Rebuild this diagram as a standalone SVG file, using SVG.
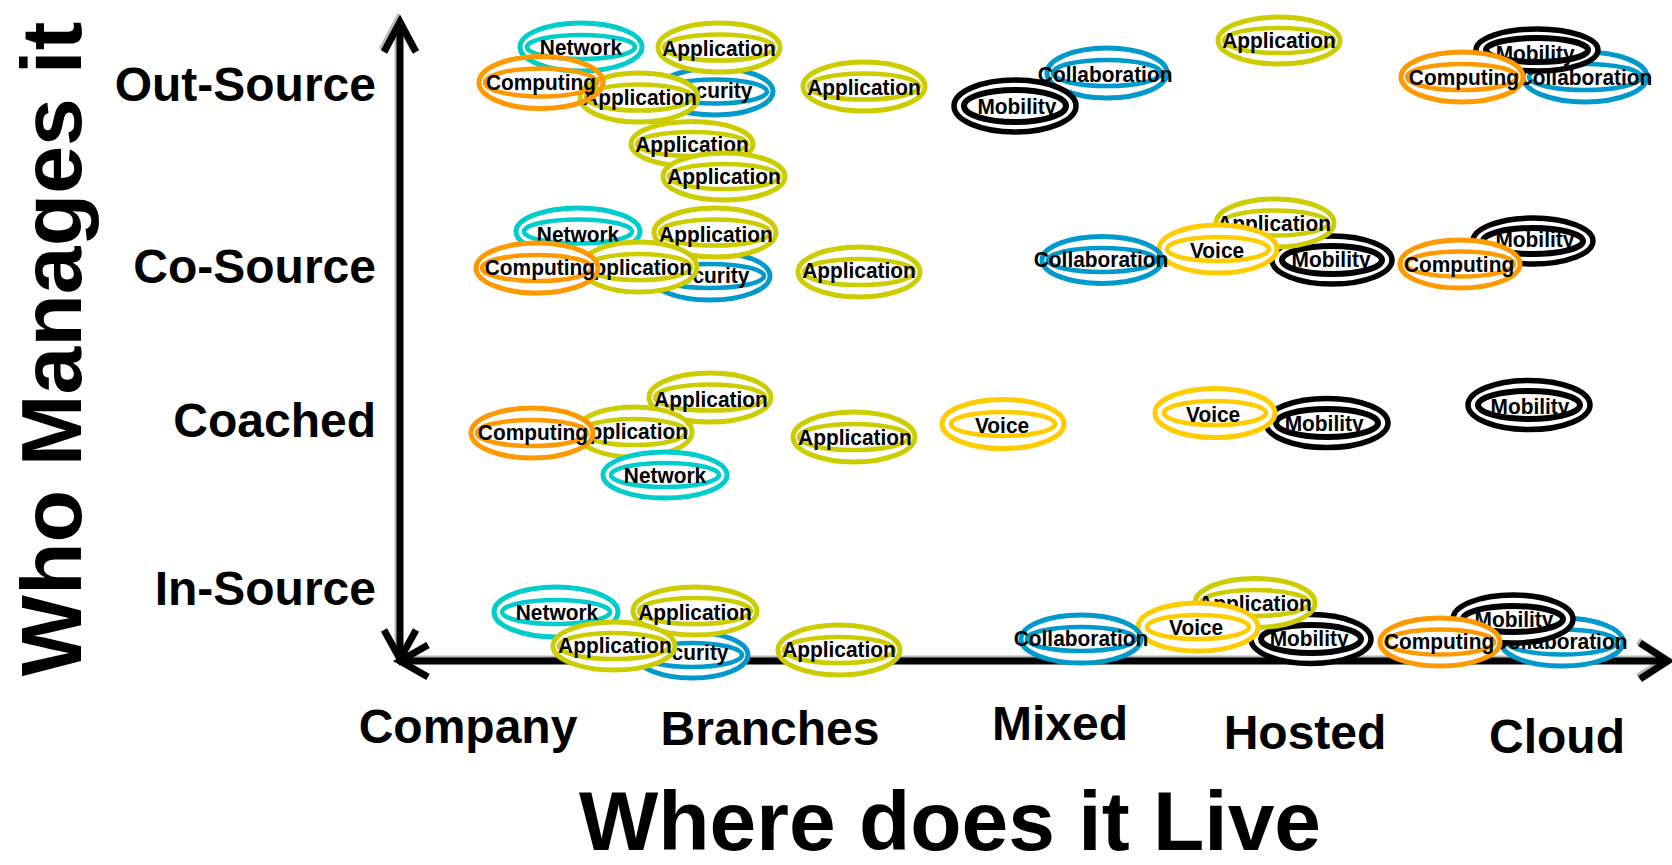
<svg xmlns="http://www.w3.org/2000/svg" width="1672" height="865" viewBox="0 0 1672 865">
<style>
.o{fill:#fff;stroke-width:5}
.i{fill:none;stroke-width:4.5}
.nf .o{fill:none}
.k .o{stroke-width:5.5}
.k .i{stroke-width:6}
.cy ellipse{stroke:#00CCCC}
.yg ellipse{stroke:#CCCC00}
.bl ellipse{stroke:#0099CC}
.or ellipse{stroke:#FF9900}
.ye ellipse{stroke:#FFCC00}
.k ellipse{stroke:#000}
.t{font-family:"Liberation Sans",Arial,sans-serif;font-weight:bold;font-size:22px;text-anchor:middle;fill:#000;transform:scale(0.95,1)}
.lab{font-family:"Liberation Sans",Arial,sans-serif;font-weight:bold;fill:#000}
.ax{fill:none;stroke:#000;stroke-width:7;stroke-linejoin:miter}
.axs{fill:none;stroke:#9a9a9a;stroke-width:7;opacity:0.7}
</style>
<rect width="1672" height="865" fill="#fff"/>
<g id="labels">
<text class="lab" x="376" y="101" font-size="48" text-anchor="end">Out-Source</text>
<text class="lab" x="376" y="283" font-size="48" text-anchor="end">Co-Source</text>
<text class="lab" x="376" y="437" font-size="48" text-anchor="end">Coached</text>
<text class="lab" x="376" y="605" font-size="48" text-anchor="end">In-Source</text>
<text class="lab" x="468" y="743" font-size="48" text-anchor="middle">Company</text>
<text class="lab" x="770" y="745" font-size="48" text-anchor="middle">Branches</text>
<text class="lab" x="1060" y="740" font-size="48" text-anchor="middle">Mixed</text>
<text class="lab" x="1305" y="749" font-size="48" text-anchor="middle">Hosted</text>
<text class="lab" x="1557" y="753" font-size="48" text-anchor="middle">Cloud</text>
<text class="lab" x="950" y="850" font-size="84" text-anchor="middle">Where does it Live</text>
<text class="lab" font-size="86" text-anchor="middle" transform="translate(81,349) rotate(-90)">Who Manages it</text>
</g>
<g id="connectors">
<g transform="translate(-2,-2)">
<line class="axs" x1="400" y1="26" x2="400" y2="655"/>
<polyline class="axs" points="384,52 400,22 416,52"/>
<line class="axs" x1="404" y1="661" x2="1664" y2="661"/>
<polyline class="axs" points="1640,643 1668,661 1640,679"/>
</g>
<line class="ax" x1="400" y1="26" x2="400" y2="655"/>
<polyline class="ax" points="384,52 400,22 416,52"/>
<polyline class="ax" points="384,630 400,659 416,630"/>
<line class="ax" x1="404" y1="661" x2="1664" y2="661"/>
<polyline class="ax" points="428,645 400,661 428,677"/>
<polyline class="ax" points="1640,643 1668,661 1640,679"/>
</g>
<g id="nodes">
<!-- Out-Source -->
<g id="os-network" class="cy" transform="translate(581,47)"><ellipse class="o" rx="61" ry="24"/><ellipse class="i" rx="54" ry="12"/><text class="t" y="8">Network</text></g>
<g id="os-security" class="bl" transform="translate(715,91.5)"><ellipse class="o" rx="58" ry="23.5"/><ellipse class="i" rx="52" ry="12"/><text class="t" x="-4" y="6">Security</text></g>
<g id="os-app1" class="yg" transform="translate(719,47.5)"><ellipse class="o" rx="61" ry="24.5"/><ellipse class="i" rx="55" ry="13"/><text class="t" y="8.5">Application</text></g>
<g id="os-app2" class="yg" transform="translate(639,97.5)"><ellipse class="o" rx="59" ry="24.5"/><ellipse class="i" rx="53" ry="13"/><text class="t" x="1" y="7.5">Application</text></g>
<g id="os-computing" class="or nf" transform="translate(541,82.5)"><ellipse class="o" rx="62" ry="26"/><ellipse class="i" rx="56" ry="14"/><text class="t" y="7.5">Computing</text></g>
<g id="os-app3" class="yg" transform="translate(692,144)"><ellipse class="o" rx="61" ry="22.5"/><ellipse class="i" rx="55" ry="12"/><text class="t" y="8">Application</text></g>
<g id="os-app4" class="yg" transform="translate(724,176.5)"><ellipse class="o" rx="61" ry="23.5"/><ellipse class="i" rx="55" ry="12.5"/><text class="t" y="7">Application</text></g>
<g id="os-app5" class="yg" transform="translate(864,86.5)"><ellipse class="o" rx="61" ry="24.5"/><ellipse class="i" rx="55" ry="13"/><text class="t" y="8.5">Application</text></g>
<g id="os-collab" class="bl" transform="translate(1107,73)"><ellipse class="o" rx="60" ry="25"/><ellipse class="i" rx="54" ry="13"/><text class="t" x="-2" y="9">Collaboration</text></g>
<g id="os-mobility" class="k" transform="translate(1015,106)"><ellipse class="o" rx="61" ry="26"/><ellipse class="i" rx="51" ry="16"/><text class="t" x="2" y="8">Mobility</text></g>
<g id="os-app6" class="yg" transform="translate(1279,40.5)"><ellipse class="o" rx="61" ry="23.5"/><ellipse class="i" rx="55" ry="12.5"/><text class="t" y="7">Application</text></g>
<g id="os-collab2" class="bl" transform="translate(1585,77)"><ellipse class="o" rx="62" ry="25"/><ellipse class="i" rx="56" ry="13"/><text class="t" y="8">Collaboration</text></g>
<g id="os-mobility2" class="k" transform="translate(1537,50)"><ellipse class="o" rx="61" ry="21"/><ellipse class="i" rx="51" ry="12"/><text class="t" x="-2" y="11">Mobility</text></g>
<g id="os-computing2" class="or" transform="translate(1462,77)"><ellipse class="o" rx="61" ry="25"/><ellipse class="i" rx="55" ry="13"/><text class="t" x="2" y="8">Computing</text></g>
<!-- Co-Source -->
<g id="cs-security" class="bl" transform="translate(710,276)"><ellipse class="o" rx="60" ry="24"/><ellipse class="i" rx="54" ry="12"/><text class="t" x="-2" y="7">Security</text></g>
<g id="cs-network" class="cy" transform="translate(578,231.5)"><ellipse class="o" rx="62" ry="23.5"/><ellipse class="i" rx="54" ry="12"/><text class="t" y="10.5">Network</text></g>
<g id="cs-app1" class="yg" transform="translate(715,232.5)"><ellipse class="o" rx="61" ry="24.5"/><ellipse class="i" rx="55" ry="13"/><text class="t" x="1" y="9.5">Application</text></g>
<g id="cs-app2" class="yg" transform="translate(639,267)"><ellipse class="o" rx="58" ry="25"/><ellipse class="i" rx="52" ry="13"/><text class="t" x="-4" y="8">Application</text></g>
<g id="cs-computing" class="or" transform="translate(537,268)"><ellipse class="o" rx="61" ry="25"/><ellipse class="i" rx="55" ry="13"/><text class="t" x="3" y="7">Computing</text></g>
<g id="cs-app3" class="yg" transform="translate(859,272)"><ellipse class="o" rx="61" ry="25"/><ellipse class="i" rx="55" ry="13"/><text class="t" y="6">Application</text></g>
<g id="cs-mobility" class="k" transform="translate(1332,260)"><ellipse class="o" rx="60" ry="24"/><ellipse class="i" rx="50" ry="14"/><text class="t" x="-1" y="7">Mobility</text></g>
<g id="cs-app4" class="yg" transform="translate(1275,223)"><ellipse class="o" rx="59" ry="24"/><ellipse class="i" rx="53" ry="12.5"/><text class="t" x="-1" y="8">Application</text></g>
<g id="cs-voice" class="ye" transform="translate(1218,249)"><ellipse class="o" rx="59" ry="24"/><ellipse class="i" rx="51" ry="12"/><text class="t" x="-1" y="9">Voice</text></g>
<g id="cs-collab" class="bl" transform="translate(1102,260)"><ellipse class="o" rx="60" ry="23.5"/><ellipse class="i" rx="54" ry="12"/><text class="t" x="-1" y="7">Collaboration</text></g>
<g id="cs-mobility2" class="k" transform="translate(1533,241)"><ellipse class="o" rx="60" ry="23"/><ellipse class="i" rx="50" ry="13"/><text class="t" x="2" y="6">Mobility</text></g>
<g id="cs-computing2" class="or" transform="translate(1460,264)"><ellipse class="o" rx="60" ry="24"/><ellipse class="i" rx="54" ry="12.5"/><text class="t" x="-1" y="8">Computing</text></g>
<!-- Coached -->
<g id="co-app1" class="yg" transform="translate(710,397.5)"><ellipse class="o" rx="61" ry="24.5"/><ellipse class="i" rx="55" ry="13"/><text class="t" x="1" y="9.5">Application</text></g>
<g id="co-app2" class="yg" transform="translate(634,432)"><ellipse class="o" rx="58" ry="25"/><ellipse class="i" rx="52" ry="13"/><text class="t" x="-3" y="7">Application</text></g>
<g id="co-computing" class="or" transform="translate(532,433)"><ellipse class="o" rx="61" ry="25"/><ellipse class="i" rx="55" ry="13"/><text class="t" x="1" y="7">Computing</text></g>
<g id="co-network" class="cy" transform="translate(665,475)"><ellipse class="o" rx="62" ry="23"/><ellipse class="i" rx="54" ry="12"/><text class="t" y="8">Network</text></g>
<g id="co-app3" class="yg" transform="translate(854,437)"><ellipse class="o" rx="61" ry="25"/><ellipse class="i" rx="55" ry="13"/><text class="t" x="1" y="8">Application</text></g>
<g id="co-voice1" class="ye" transform="translate(1003,424)"><ellipse class="o" rx="61" ry="24.5"/><ellipse class="i" rx="52" ry="12"/><text class="t" x="-1" y="9">Voice</text></g>
<g id="co-mobility" class="k" transform="translate(1327,423)"><ellipse class="o" rx="61" ry="24.5"/><ellipse class="i" rx="51" ry="14"/><text class="t" x="-3" y="8">Mobility</text></g>
<g id="co-voice2" class="ye" transform="translate(1215,413)"><ellipse class="o" rx="60" ry="24.5"/><ellipse class="i" rx="51" ry="12"/><text class="t" x="-2" y="9">Voice</text></g>
<g id="co-mobility2" class="k" transform="translate(1529,405)"><ellipse class="o" rx="61" ry="24.5"/><ellipse class="i" rx="51" ry="14"/><text class="t" x="1" y="9">Mobility</text></g>
<!-- In-Source -->
<g id="is-network" class="cy" transform="translate(556,612)"><ellipse class="o" rx="62" ry="25"/><ellipse class="i" rx="54" ry="12"/><text class="t" x="1" y="8">Network</text></g>
<g id="is-security" class="bl" transform="translate(692,655)"><ellipse class="o" rx="56" ry="23"/><ellipse class="i" rx="50" ry="12"/><text class="t" x="-5" y="5">Security</text></g>
<g id="is-app1" class="yg" transform="translate(695,611)"><ellipse class="o" rx="62" ry="24"/><ellipse class="i" rx="56" ry="13"/><text class="t" y="9">Application</text></g>
<g id="is-app2" class="yg" transform="translate(614,646)"><ellipse class="o" rx="61" ry="24"/><ellipse class="i" rx="55" ry="13"/><text class="t" x="1" y="7">Application</text></g>
<g id="is-app3" class="yg" transform="translate(839,650)"><ellipse class="o" rx="61" ry="25"/><ellipse class="i" rx="55" ry="13"/><text class="t" y="7">Application</text></g>
<g id="is-mobility" class="k" transform="translate(1311,639)"><ellipse class="o" rx="60" ry="24.5"/><ellipse class="i" rx="50" ry="14"/><text class="t" x="-2" y="7">Mobility</text></g>
<g id="is-app4" class="yg" transform="translate(1255,603)"><ellipse class="o" rx="60" ry="24.5"/><ellipse class="i" rx="54" ry="13"/><text class="t" y="8">Application</text></g>
<g id="is-voice" class="ye" transform="translate(1198,627)"><ellipse class="o" rx="60" ry="24"/><ellipse class="i" rx="51" ry="12"/><text class="t" x="-2" y="8">Voice</text></g>
<g id="is-collab" class="bl" transform="translate(1081,639)"><ellipse class="o" rx="60" ry="24"/><ellipse class="i" rx="54" ry="12"/><text class="t" y="7">Collaboration</text></g>
<g id="is-collab2" class="bl" transform="translate(1562,642)"><ellipse class="o" rx="61" ry="24"/><ellipse class="i" rx="55" ry="12.5"/><text class="t" x="-2" y="7">Collaboration</text></g>
<g id="is-mobility2" class="k" transform="translate(1513,619)"><ellipse class="o" rx="60" ry="24"/><ellipse class="i" rx="50" ry="13"/><text class="t" x="1" y="8">Mobility</text></g>
<g id="is-computing" class="or" transform="translate(1440,642)"><ellipse class="o" rx="60" ry="24"/><ellipse class="i" rx="54" ry="12.5"/><text class="t" x="-1" y="7">Computing</text></g>
</g>
</svg>
